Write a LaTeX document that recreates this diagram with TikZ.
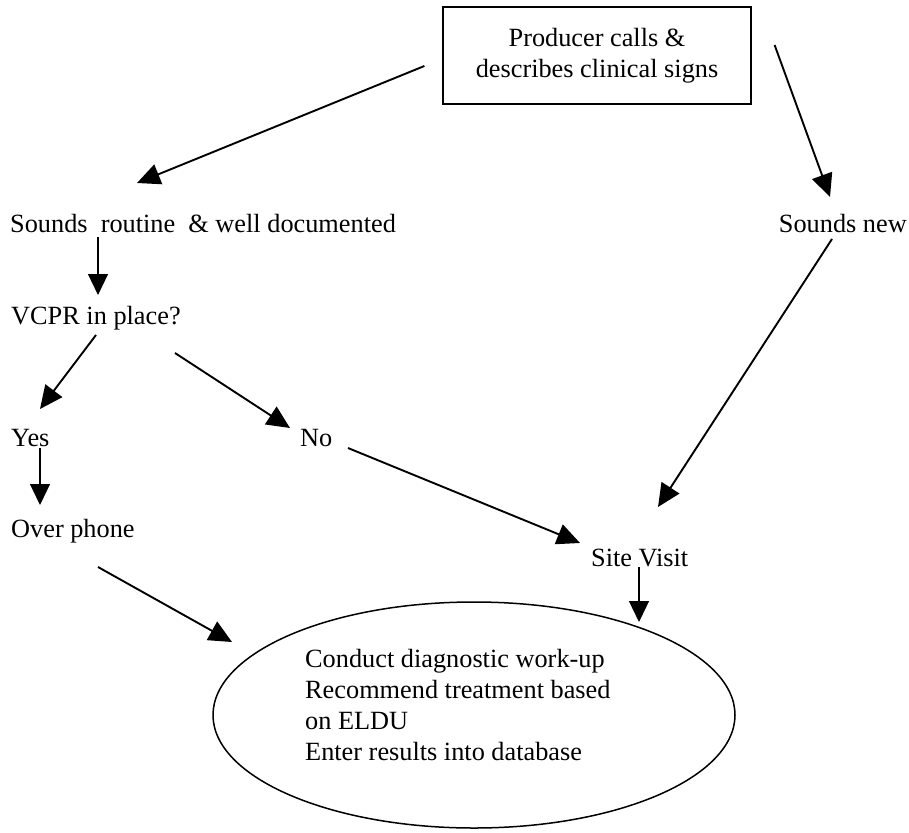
\documentclass[tikz,border=0pt]{standalone}
\usepackage{fontspec}
\setmainfont{Liberation Serif}
\usetikzlibrary{arrows.meta,shapes.geometric,calc}
\begin{document}
\begin{tikzpicture}[x=1pt,y=-1pt,
  txt/.style={inner sep=0pt,font=\fontsize{26.3}{31}\selectfont},
  arr/.style={line width=1.9pt,-{Triangle[length=23pt,width=21pt]}},
  varr/.style={line width=1.2pt,-{Triangle[length=21pt,width=20pt]}}]
\useasboundingbox (0,0) rectangle (909,832);
\fill[white] (0,0) rectangle (909,832);
% nodes
\node[draw,line width=1.2pt,minimum width=308pt,minimum height=97pt,align=center,inner sep=0pt,
  font=\fontsize{26.3}{31}\selectfont] (box) at (597,55.5)
  {Producer calls \&\\describes clinical signs};
\node[txt,anchor=base west] (routine) at (10,232) {Sounds\ \ routine\ \ \& well documented};
\node[txt,anchor=base east] (new) at (907,232) {Sounds new};
\node[txt,anchor=base west] (vcpr) at (11,324) {VCPR in place?};
\node[txt,anchor=base west] (yes) at (11,446) {Yes};
\node[txt,anchor=base west] (no) at (300,446) {No};
\node[txt,anchor=base west] (phone) at (11,537) {Over phone};
\node[txt,anchor=base west] (site) at (591,566) {Site Visit};
\node[draw,ellipse,line width=1.5pt,minimum width=522pt,minimum height=226pt,inner sep=0pt] (ell) at (474,715) {};
\node[txt,anchor=base west,align=left] (elltext) at (305,760)
  {Conduct diagnostic work-up\\Recommend treatment based\\on ELDU\\Enter results into database};
% connectors
\draw[arr] ([shift={(-18,10.5)}]box.west) -- ([shift={(127,-49)}]routine.base west);
\draw[arr] ([shift={(23,-10.5)}]box.east) -- ([shift={(-77,-35)}]new.base east);
\draw[varr] ([shift={(88,5)}]routine.base west) -- ([shift={(87,-29)}]vcpr.base west);
\draw[arr] ([shift={(-75,7)}]new.base east) -- ([shift={(67,-59)}]site.base west);
\draw[arr] ([shift={(85,11)}]vcpr.base west) -- ([shift={(29,-37)}]yes.base west);
\draw[arr] ([shift={(164,29)}]vcpr.base west) -- ([shift={(-10,-18)}]no.base west);
\draw[arr] ([shift={(48,2)}]no.base west) -- ([shift={(-11,-23)}]site.base west);
\draw[varr] ([shift={(29,2)}]yes.base west) -- ([shift={(29,-32)}]phone.base west);
\draw[arr] ([shift={(87,30)}]phone.base west) -- ([shift={(-242,-73)}]ell.center);
\draw[varr] ([shift={(48,1)}]site.base west) -- ([shift={(165,-93)}]ell.center);
\end{tikzpicture}
\end{document}
